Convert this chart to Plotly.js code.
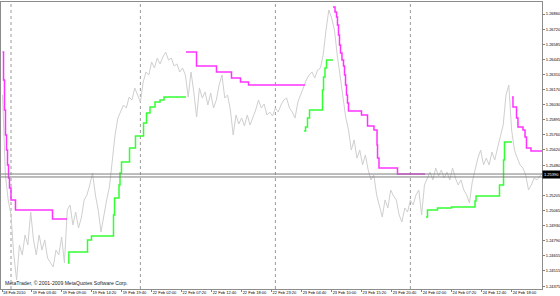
<!DOCTYPE html>
<html>
<head>
<meta charset="utf-8">
<script src="https://cdn.plot.ly/plotly-3.0.1.min.js"></script>
<style>html,body{margin:0;padding:0;background:#fff;}#chart{width:560px;height:296px;}</style>
</head>
<body>
<div id="chart"></div>
<script>
// Time axis: trading hours from 19 Feb 2010 00:00 (weekend removed, Friday closes 23:00)
const tickHours = [-1.6, 3.667, 9, 14.333, 19.667, 25, 30.333, 35.667, 41, 46.333, 51.667, 57, 62.333, 67.667, 73, 78.333, 83.667, 89];
const tickText = ['18 Feb 2010','19 Feb 03:40','19 Feb 09:00','19 Feb 14:20','19 Feb 19:40','22 Feb 02:00','22 Feb 07:20','22 Feb 12:40','22 Feb 18:00','22 Feb 23:20','23 Feb 04:40','23 Feb 10:00','23 Feb 15:20','23 Feb 20:40','24 Feb 02:00','24 Feb 07:20','24 Feb 12:40','24 Feb 18:00'];
const daySeparators = [0, 23, 47, 71];
const priceTicks = [1.26860,1.26720,1.26585,1.26445,1.26310,1.26170,1.26030,1.25895,1.25760,1.25620,1.25480,1.25205,1.25065,1.24930,1.24790,1.24655,1.24515,1.24375];

// Price line (close), one value each half hour starting at -1.5 h
const closeStart = -1.5;
const closeStep = 0.5;
const closePrices = [
1.26121,1.25390,1.25162,1.25025,1.24660,1.24432,1.24751,1.24660,1.24842,1.24751,
1.25052,1.24797,1.24660,1.24842,1.24705,1.24797,1.24632,1.24596,1.24550,1.24705,
1.24660,1.24824,1.24587,1.25071,1.25116,1.24934,1.25052,1.24906,1.24998,1.25162,
1.25208,1.25299,1.25409,1.25208,1.25071,1.24870,1.25025,1.25162,1.25281,1.25527,
1.25755,1.25911,1.25965,1.26029,1.26002,1.26102,1.26075,1.26185,1.26121,1.26057,
1.26239,1.26331,1.26303,1.26422,1.26367,1.26458,1.26404,1.26468,1.26513,1.26440,
1.26458,1.26385,1.26404,1.26331,1.26367,1.26303,1.26102,1.26331,1.26148,1.25920,
1.26185,1.26093,1.26148,1.26029,1.26139,1.26002,1.26075,1.26212,1.26303,1.26093,
1.26121,1.25984,1.25755,1.25938,1.25856,1.25911,1.25838,1.25938,1.25847,1.25911,
1.25984,1.26075,1.26002,1.26038,1.25938,1.25965,1.25929,1.26002,1.25965,1.26029,
1.26075,1.26093,1.26002,1.25965,1.25911,1.26057,1.26121,1.26185,1.26258,1.26303,
1.26331,1.26276,1.26349,1.26367,1.26486,1.26714,1.26897,1.26824,1.26714,1.26486,
1.26303,1.26121,1.25920,1.25801,1.25618,1.25710,1.25545,1.25618,1.25482,1.25573,
1.25436,1.25345,1.25390,1.25208,1.25116,1.25007,1.25162,1.25089,1.25253,1.25199,
1.25162,1.25025,1.24961,1.25089,1.25052,1.25162,1.25116,1.25208,1.25253,1.25025,
1.25299,1.25363,1.25418,1.25345,1.25454,1.25381,1.25436,1.25363,1.25418,1.25345,
1.25454,1.25363,1.25299,1.25345,1.25253,1.25208,1.25135,1.25326,1.25436,1.25545,
1.25618,1.25482,1.25545,1.25482,1.25600,1.25527,1.25637,1.25755,1.25847,1.26121,
1.26212,1.25801,1.25618,1.25545,1.25482,1.25454,1.25390,1.25253,1.25299,1.25363,
1.25345,1.25381,1.25409
];

// Upper stop line (magenta), segments: step start times and levels
const upperT1 = [-1.51,-1.33,-1.16,-0.98,-0.80,-0.62,-0.44,-0.27,0,0.80,7.38,9.96];
const upperP1 = [1.26513,1.26258,1.25984,1.25755,1.25618,1.25482,1.25363,1.25272,1.25162,1.25071,1.24988,1.24988];
const upperT2 = [31.11,32.98,36.53,39.20,40.80,42.22,52.27];
const upperP2 = [1.26513,1.26385,1.26331,1.26276,1.26239,1.26212,1.26212];
const upperT3 = [57.24,57.60,57.87,58.04,58.22,58.40,58.58,58.84,59.11,59.29,59.47,59.64,59.82,60.00,62.31,63.38,64.53,65.07,65.16,65.42,68.71,73.60];
const upperP3 = [1.26924,1.26878,1.26833,1.26760,1.26668,1.26577,1.26504,1.26440,1.26385,1.26303,1.26212,1.26121,1.26048,1.25975,1.25938,1.25838,1.25801,1.25664,1.25545,1.25454,1.25399,1.25399];
const upperT4 = [89.07,89.24,89.87,90.13,91.02,91.38,91.64,92.44,94.4];
const upperP4 = [1.26102,1.26011,1.25911,1.25828,1.25801,1.25737,1.25637,1.25609,1.25609];

// Lower stop line (green)
const lowerT1 = [10.13,10.28,13.60,14.31,18.22,18.40,19.20,19.38,19.64,21.07,22.13,23.56,24.09,24.71,25.60,26.49,27.20,31.11];
const lowerP1 = [1.24587,1.24687,1.24797,1.24833,1.25025,1.25180,1.25299,1.25409,1.25509,1.25637,1.25746,1.25865,1.25956,1.26011,1.26057,1.26075,1.26102,1.26102];
const lowerT2 = [52.09,52.36,52.71,53.07,55.38,55.56,55.82,56.09,57.24];
const lowerP2 = [1.25792,1.25828,1.25911,1.25984,1.26166,1.26285,1.26367,1.26440,1.26440];
const lowerT3 = [73.78,74.04,75.82,78.31,82.49,82.67,86.84,87.56,87.73,89.07];
const lowerP3 = [1.25007,1.25071,1.25089,1.25098,1.25153,1.25199,1.25299,1.25527,1.25692,1.25692];

const bidPrice = 1.25399;
const askPrice = 1.25372;
const bidLabel = '1.25390';

const closeTimes = closePrices.map((_, i) => closeStart + i * closeStep);

const MAG = '#ff33ff', GRN = '#33ff33';
function step(t, p, c) {
  return {x: t, y: p, type: 'scatter', mode: 'lines', line: {color: c, width: 1.5, shape: 'hv'}, hoverinfo: 'skip', showlegend: false};
}
const traces = [
  {x: closeTimes, y: closePrices, type: 'scatter', mode: 'lines', line: {color: '#cfcfcf', width: 1}, hoverinfo: 'skip', showlegend: false},
  step(upperT1, upperP1, MAG), step(upperT2, upperP2, MAG), step(upperT3, upperP3, MAG), step(upperT4, upperP4, MAG),
  step(lowerT1, lowerP1, GRN), step(lowerT2, lowerP2, GRN), step(lowerT3, lowerP3, GRN)
];

const shapes = daySeparators.map(d => ({type: 'line', xref: 'x', yref: 'paper', x0: d, x1: d, y0: 0, y1: 1, line: {color: '#9a9a9a', width: 1, dash: 'dot'}, layer: 'below'}));
[bidPrice, askPrice].forEach(p => shapes.push({type: 'line', xref: 'paper', yref: 'y', x0: 0, x1: 1, y0: p, y1: p, line: {color: '#7c7c7c', width: 1}}));

const FONT = {family: 'Liberation Sans, Arial, sans-serif', size: 4, color: '#000'};
const layout = {
  width: 560, height: 296,
  margin: {l: 1, r: 18, t: 2, b: 7, pad: 0},
  paper_bgcolor: '#fff', plot_bgcolor: '#fff',
  showlegend: false,
  font: FONT,
  xaxis: {
    range: [-1.778, 94.4], showgrid: false, zeroline: false,
    tickmode: 'array', tickvals: tickHours, ticktext: tickText,
    ticks: 'outside', ticklen: 2, tickcolor: '#808080', tickwidth: 1,
    ticklabelposition: 'outside right', tickangle: 0, ticklabelstandoff: -1,
    showline: true, linecolor: '#8c8c8c', linewidth: 1, mirror: true,
    tickfont: FONT, automargin: false, fixedrange: true
  },
  yaxis: {
    side: 'right', range: [1.24349, 1.26970], showgrid: false, zeroline: false,
    tickmode: 'array', tickvals: priceTicks, ticktext: priceTicks.map(v => v.toFixed(5)),
    ticks: 'outside', ticklen: 2, tickcolor: '#808080', tickwidth: 1, ticklabelstandoff: 0,
    showline: true, linecolor: '#8c8c8c', linewidth: 1, mirror: true,
    tickfont: FONT, automargin: false, fixedrange: true
  },
  shapes: shapes,
  annotations: [
    {xref: 'paper', yref: 'y', x: 1, y: bidPrice - 0.00005, xanchor: 'left', yanchor: 'middle', xshift: 0, text: bidLabel, showarrow: false, bgcolor: '#000', font: {family: FONT.family, size: 4, color: '#fff'}, borderpad: 1},
    {xref: 'paper', yref: 'paper', x: 0.004, y: 0.005, xanchor: 'left', yanchor: 'bottom', text: 'MetaTrader, © 2001-2009 MetaQuotes Software Corp.', showarrow: false, font: {family: FONT.family, size: 5.1, color: '#222'}}
  ]
};
Plotly.newPlot('chart', traces, layout, {staticPlot: true, displayModeBar: false});
</script>
</body>
</html>
